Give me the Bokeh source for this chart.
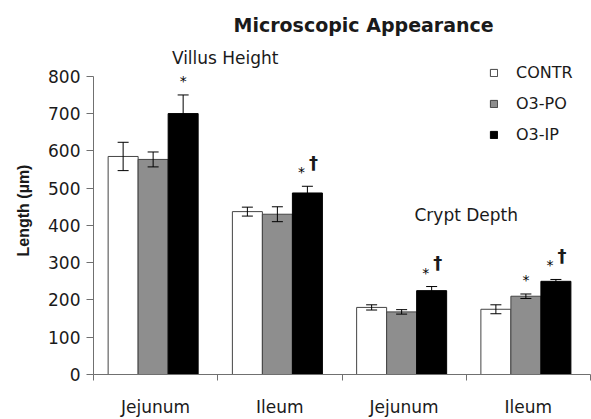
from bokeh.plotting import figure
from bokeh.models import (Range1d, FixedTicker, ColumnDataSource, Whisker, TeeHead,
                          Label, Legend, LegendItem)
from bokeh.core.properties import value
from bokeh.embed import file_html
from bokeh.resources import INLINE

# ---------------- data ----------------
categories = ["Jejunum", "Ileum", "Jejunum", "Ileum"]
series = ["CONTR", "O3-PO", "O3-IP"]
contr = [585, 437, 180, 175]
contr_err = [38, 12, 7, 12]
o3po = [577, 430, 168, 210]
o3po_err = [20, 20, 6, 6]
o3ip = [700, 487, 225, 250]
o3ip_err = [50, 18, 11, 5]
# significance markers: * vs CONTR, dagger vs O3-PO
star = [[0, 0, 0, 0], [0, 0, 0, 1], [1, 1, 1, 1]]
dagger = [[0, 0, 0, 0], [0, 0, 0, 0], [0, 1, 1, 1]]
section_titles = ["Villus Height", "Crypt Depth"]
chart_title = "Microscopic Appearance"
y_label = "Length (\u00b5m)"
y_ticks = [0, 100, 200, 300, 400, 500, 600, 700, 800]

values = [contr, o3po, o3ip]
errors = [contr_err, o3po_err, o3ip_err]
fills = ["white", "#8e8e8e", "black"]
lines = ["#444444", "#444444", "black"]

FONT = "DejaVu Sans"
TXT = "#1a1a1a"

p = figure(width=591, height=419, output_backend="svg", toolbar_location=None,
           x_range=Range1d(0, 4), y_range=Range1d(0, 880),
           min_border_left=93, min_border_right=1, min_border_top=46,
           min_border_bottom=43)
p.outline_line_color = None
p.xgrid.visible = False
p.ygrid.visible = False
p.background_fill_color = "white"

# title
p.title.text = chart_title
p.title.text_font = FONT
p.title.text_font_size = "19px"
p.title.text_font_style = "bold"
p.title.text_color = TXT
p.title.align = "left"
p.title.offset = 140
p.title.standoff = 22

# y axis
ya = p.yaxis[0]
ya.ticker = FixedTicker(ticks=y_ticks)
ya.bounds = (0, 800)
ya.axis_line_color = "#707070"
ya.major_tick_line_color = "#707070"
ya.major_tick_out = 7
ya.major_tick_in = 0
ya.minor_tick_line_color = None
ya.major_label_standoff = 6
ya.major_label_text_font = FONT
ya.major_label_text_font_size = "17px"
ya.major_label_text_color = TXT
ya.axis_label = y_label
ya.axis_label_text_font = "Liberation Sans"
ya.axis_label_text_font_size = "16px"
ya.axis_label_text_font_style = "bold"
ya.axis_label_text_color = TXT
ya.axis_label_standoff = 13

# x axis: labels at group centres, tick marks at group boundaries
xa = p.xaxis[0]
centres = [g + 0.5 for g in range(len(categories))]
xa.ticker = FixedTicker(ticks=centres, minor_ticks=list(range(len(categories) + 1)))
xa.major_label_overrides = {c: lab for c, lab in zip(centres, categories)}
xa.axis_line_color = "#707070"
xa.major_tick_line_color = None
xa.minor_tick_line_color = "#707070"
xa.minor_tick_out = 6
xa.minor_tick_in = 0
xa.major_label_standoff = 16
xa.major_label_text_font = FONT
xa.major_label_text_font_size = "17px"
xa.major_label_text_color = TXT

BW = 0.2415
SHIFT = -0.02
renderers = []
for i, (vals, errs) in enumerate(zip(values, errors)):
    xs = [c + (i - 1) * BW + SHIFT for c in centres]
    src = ColumnDataSource(dict(x=xs, top=vals,
                                lo=[v - e for v, e in zip(vals, errs)],
                                hi=[v + e for v, e in zip(vals, errs)]))
    r = p.vbar(x="x", top="top", width=BW, source=src, fill_color=fills[i],
               line_color=lines[i], line_width=1)
    renderers.append(r)
    w = Whisker(base="x", lower="lo", upper="hi", source=src, line_color="black",
                line_width=1, level="overlay",
                upper_head=TeeHead(size=11, line_color="black", line_width=1),
                lower_head=TeeHead(size=11, line_color="black", line_width=1))
    p.add_layout(w)

    # significance markers
    sx, sy, sxo = [], [], []
    dx, dy = [], []
    for g in range(len(categories)):
        top = vals[g] + errs[g]
        if star[i][g]:
            sx.append(xs[g]); sy.append(top)
            sxo.append(-6 if dagger[i][g] else 0)
        if dagger[i][g]:
            dx.append(xs[g]); dy.append(top)
    if sx:
        p.text(x="x", y="y", x_offset="xo", text=value("*"),
               source=ColumnDataSource(dict(x=sx, y=sy, xo=sxo)),
               y_offset=-14, text_align="center", text_baseline="alphabetic",
               text_font=value(FONT), text_font_size="14px", text_color="black")
    if dx:
        p.text(x="x", y="y", text=value("\u2020"),
               source=ColumnDataSource(dict(x=dx, y=dy)),
               x_offset=6, y_offset=-24, text_align="center", text_baseline="alphabetic",
               text_font=value(FONT), text_font_size="18px", text_color=TXT,
               text_font_style="bold")

legend = Legend(items=[LegendItem(label=s, renderers=[r]) for s, r in zip(series, renderers)],
                location=(396, 230), glyph_width=9, glyph_height=9, label_standoff=18,
                spacing=11, padding=0, margin=0, border_line_color=None,
                background_fill_alpha=0, label_text_font=FONT,
                label_text_font_size="16px", label_text_color=TXT, label_height=20)
p.add_layout(legend)

# section headings (inside the frame, above the bars)
p.add_layout(Label(x=1.06, y=848, text=section_titles[0], text_align="center",
                   text_baseline="middle", text_font=FONT, text_font_size="17px",
                   text_color=TXT))
p.add_layout(Label(x=3.0, y=429, text=section_titles[1], text_align="center",
                   text_baseline="middle", text_font=FONT, text_font_size="17px",
                   text_color=TXT))

open("out.html", "w").write(file_html(p, INLINE))
